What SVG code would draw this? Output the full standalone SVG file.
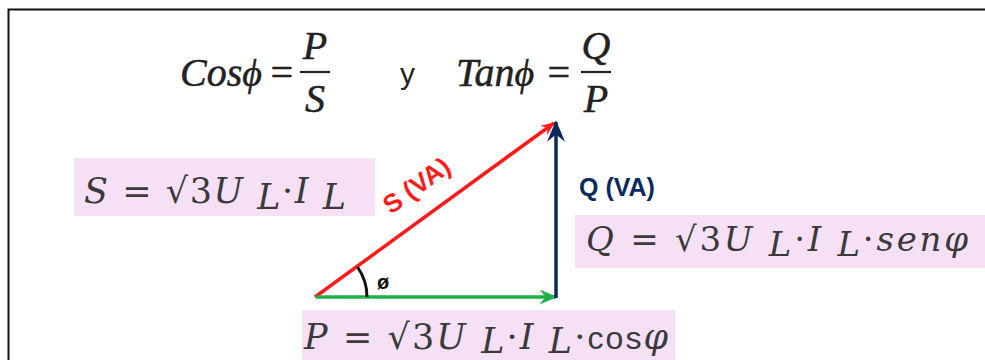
<svg xmlns="http://www.w3.org/2000/svg" width="985" height="360" viewBox="0 0 985 360">
<style>
.math{font-family:"Liberation Serif","DejaVu Serif",serif;font-style:italic;fill:#222;stroke:#222;stroke-width:0.5}
.eq{font-family:"DejaVu Serif","Liberation Serif",serif;font-style:italic;fill:#3a3a3a}
.up{font-style:normal}
.sans{font-family:"Liberation Sans",Arial,sans-serif;font-style:normal}
.box{fill:#f6e0f6}
.lbl{font-family:"Liberation Sans",Arial,sans-serif;font-weight:bold}
</style>
<defs>
<marker id="mr" viewBox="0 0 12 10" refX="11" refY="5" markerWidth="14" markerHeight="12" markerUnits="userSpaceOnUse" orient="auto"><path d="M0,0 L12,5 L0,10 L4,5 Z" fill="#ff1a1a"/></marker>
<marker id="mg" viewBox="0 0 12 10" refX="11" refY="5" markerWidth="26" markerHeight="15" markerUnits="userSpaceOnUse" orient="auto"><path d="M0,0 L12,5 L0,10 L4,5 Z" fill="#1fb04a"/></marker>
<marker id="mb" viewBox="0 0 12 10" refX="11" refY="5" markerWidth="22" markerHeight="18" markerUnits="userSpaceOnUse" orient="auto"><path d="M0,0 L12,5 L0,10 L4,5 Z" fill="#0b2860"/></marker>
</defs>
<rect width="985" height="360" fill="#fff"/>
<path d="M8.5,360 V9.5 H985" fill="none" stroke="#111" stroke-width="2"/>

<g id="header">
<text class="math" font-size="40" x="180" y="86">Cos<tspan font-size="38">ϕ</tspan></text>
<text class="math" font-size="40" x="268" y="86" font-style="normal">=</text>
<text class="math" font-size="40" x="315" y="59" text-anchor="middle">P</text>
<line x1="300" y1="72" x2="330" y2="72" stroke="#222" stroke-width="2.2"/>
<text class="math" font-size="40" x="315" y="112" text-anchor="middle">S</text>
<text font-family="Liberation Sans,Arial,sans-serif" font-size="30" fill="#222" x="400" y="84">y</text>
<text class="math" font-size="40" x="456" y="86">Tan<tspan font-size="38">ϕ</tspan></text>
<text class="math" font-size="40" x="545" y="86" font-style="normal">=</text>
<text class="math" font-size="40" x="596" y="59" text-anchor="middle">Q</text>
<line x1="581" y1="72" x2="611" y2="72" stroke="#222" stroke-width="2.2"/>
<text class="math" font-size="40" x="596" y="112" text-anchor="middle">P</text>
</g>

<g id="S-formula">
<rect class="box" x="74" y="158" width="301" height="58"/>
<text class="eq" font-size="35" x="84" y="203" textLength="262" lengthAdjust="spacing">S <tspan class="up">=</tspan> <tspan class="up">√3</tspan>U <tspan dy="6">L</tspan><tspan dy="-6" class="up">·</tspan>I <tspan dy="6">L</tspan></text>
</g>

<g id="Q-formula">
<rect class="box" x="575" y="215" width="410" height="53"/>
<text class="eq" font-size="34" x="586" y="251" textLength="382" lengthAdjust="spacing">Q <tspan class="up">=</tspan> <tspan class="up">√3</tspan>U <tspan dy="5">L</tspan><tspan dy="-5" class="up">·</tspan>I <tspan dy="5">L</tspan><tspan dy="-5" class="up">·</tspan>senφ</text>
</g>

<g id="P-formula">
<rect class="box" x="302" y="310" width="373" height="50"/>
<text class="eq" font-size="35" x="304" y="349" textLength="364" lengthAdjust="spacing">P <tspan class="up">=</tspan> <tspan class="up">√3</tspan>U <tspan dy="4">L</tspan><tspan dy="-4" class="up">·</tspan>I <tspan dy="4">L</tspan><tspan dy="-4" class="up">·</tspan><tspan class="sans" font-size="32">cos</tspan>φ</text>
</g>

<g id="connectors">
<line x1="315" y1="297" x2="554" y2="123" stroke="#ff1a1a" stroke-width="3.5" marker-end="url(#mr)"/>
<line x1="316" y1="297" x2="556" y2="297" stroke="#1fb04a" stroke-width="3.5" marker-end="url(#mg)"/>
<line x1="556" y1="298" x2="556" y2="122" stroke="#0b2860" stroke-width="3.5" marker-end="url(#mb)"/>
<path d="M357.5,267 A52,52 0 0 1 367,297" fill="none" stroke="#111" stroke-width="3"/>
</g>

<g id="labels">
<text class="lbl" font-size="26" fill="#ff1a1a" transform="translate(391,215) rotate(-36)">S (VA)</text>
<text class="lbl" font-size="25" fill="#0b2860" x="579" y="196">Q (VA)</text>
<text class="lbl" font-size="20" fill="#111" x="377" y="289">ø</text>
</g>
</svg>
